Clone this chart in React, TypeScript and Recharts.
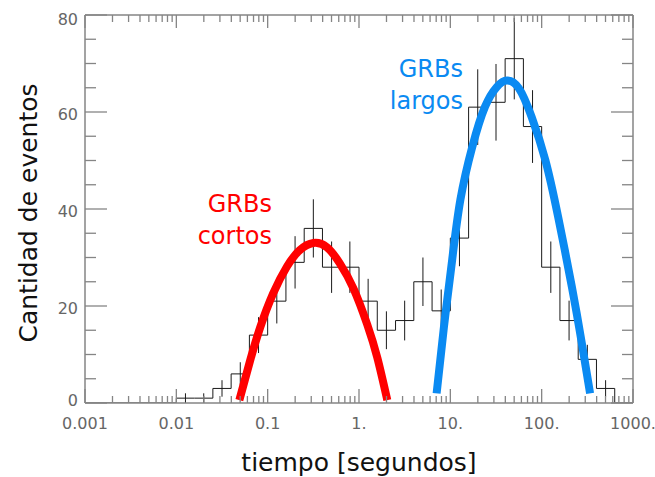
import { ComposedChart, Line, Scatter, ErrorBar, XAxis, YAxis } from 'recharts';

// histogram: left edges of the bins in log10(seconds), bin width 0.2 dex
const binEdges = [-2.0, -1.8, -1.6, -1.4, -1.2, -1.0, -0.8, -0.6, -0.4, -0.2, 0.0, 0.2, 0.4, 0.6, 0.8, 1.0, 1.2, 1.4, 1.6, 1.8, 2.0, 2.2, 2.4, 2.6];
const binWidth = 0.2;
const counts = [1, 1, 3, 6, 14, 21, 29, 36, 28, 28, 21, 15, 17, 25, 19, 34, 61, 62, 71, 57, 28, 17, 9, 3];
const countErrors = [1.0, 1.0, 1.7, 2.4, 3.7, 4.6, 5.4, 6.0, 5.3, 5.3, 4.6, 3.9, 4.1, 5.0, 4.4, 5.8, 7.8, 7.9, 8.4, 7.5, 5.3, 4.1, 3.0, 1.7];

// fitted curves (log10 seconds, events)
const shortFitX = [-1.31, -1.19, -1.08, -0.94, -0.79, -0.65, -0.5, -0.35, -0.21, -0.06, 0.09, 0.2, 0.31];
const shortFitY = [0.6, 8.9, 15.7, 22.6, 28.1, 31.5, 33.0, 32.1, 28.8, 23.6, 16.2, 9.4, 0.6];
const longFitX = [0.85, 0.93, 1.02, 1.11, 1.24, 1.38, 1.51, 1.62, 1.75, 1.89, 2.04, 2.18, 2.33, 2.44, 2.53];
const longFitY = [2.0, 15.7, 29.5, 41.9, 52.8, 61.1, 65.2, 66.5, 64.9, 59.0, 50.1, 38.4, 24.0, 12.3, 2.0];

// axes
const xMajorTicks = [-3, -2, -1, 0, 1, 2, 3];
const xTickLabels = ['0.001', '0.01', '0.1', '1.', '10.', '100.', '1000.'];
const yMajorTicks = [0, 20, 40, 60, 80];
const yTickLabels = ['0', '20', '40', '60', '80'];
const yMinorStep = 5;

const FRAME = '#858585';
const LABEL = '#666';
const RED = '#ff0000';
const BLUE = '#0a8af2';
const FONT = '"DejaVu Sans", Verdana, sans-serif';

const xTicks: number[] = [...xMajorTicks];
for (let d = -3; d < 3; d++) {
  for (let k = 2; k <= 9; k++) xTicks.push(d + Math.log10(k));
}
const yTicks: number[] = [];
for (let v = 0; v <= 80; v += yMinorStep) yTicks.push(v);

const histData = [
  { x: -3, y: 0 },
  ...binEdges.map((e, i) => ({ x: e, y: counts[i] })),
  { x: binEdges[binEdges.length - 1] + binWidth, y: 0 },
  { x: 3, y: 0 },
];
const errData = binEdges.map((e, i) => ({ x: e + binWidth / 2, y: counts[i], err: countErrors[i] }));
const shortData = shortFitX.map((x, i) => ({ x, y: shortFitY[i] }));
const longData = longFitX.map((x, i) => ({ x, y: longFitY[i] }));

function BottomTick(props: any) {
  const { x, y, payload } = props;
  const i = xMajorTicks.indexOf(payload.value);
  const len = i >= 0 ? 14 : 7;
  return (
    <g>
      <line x1={x} x2={x} y1={y} y2={y - len} stroke={FRAME} strokeWidth={1.3} />
      {i >= 0 && (
        <text x={x} y={y + 26} textAnchor="middle" fontSize={16} fill={LABEL} fontFamily={FONT}>
          {xTickLabels[i]}
        </text>
      )}
    </g>
  );
}

function TopTick(props: any) {
  const { x, y, payload } = props;
  const len = xMajorTicks.includes(payload.value) ? 13 : 7;
  return <line x1={x} x2={x} y1={y} y2={y + len} stroke={FRAME} strokeWidth={1.3} />;
}

function LeftTick(props: any) {
  const { x, y, payload } = props;
  const i = yMajorTicks.indexOf(payload.value);
  const len = i >= 0 ? 22 : 11;
  const dy = payload.value === 80 ? 4 : payload.value === 0 ? -3 : 2;
  return (
    <g>
      <line x1={x} x2={x + len} y1={y} y2={y} stroke={FRAME} strokeWidth={1.3} />
      {i >= 0 && (
        <text x={x - 7} y={y + dy} dy="0.36em" textAnchor="end" fontSize={16} fill={LABEL} fontFamily={FONT}>
          {yTickLabels[i]}
        </text>
      )}
    </g>
  );
}

function RightTick(props: any) {
  const { x, y, payload } = props;
  const len = yMajorTicks.includes(payload.value) ? 22 : 11;
  return <line x1={x} x2={x - len} y1={y} y2={y} stroke={FRAME} strokeWidth={1.3} />;
}

const noDot = () => <g />;

export default function App() {
  return (
    <div style={{ position: 'absolute', left: 0, top: 0, width: 655, height: 477, background: '#fff' }}>
      <ComposedChart width={655} height={477} margin={{ top: 14, right: 21, bottom: 73, left: 84 }}>
        <XAxis
          type="number"
          dataKey="x"
          domain={[-3, 3]}
          allowDataOverflow
          ticks={xTicks}
          interval={0}
          height={1}
          tickSize={0}
          tickMargin={0}
          tickLine={false}
          tick={<BottomTick />}
          axisLine={{ stroke: FRAME, strokeWidth: 1.5 }}
        />
        <XAxis
          xAxisId="top"
          orientation="top"
          type="number"
          dataKey="x"
          domain={[-3, 3]}
          allowDataOverflow
          ticks={xTicks}
          interval={0}
          height={1}
          tickSize={0}
          tickMargin={0}
          tickLine={false}
          tick={<TopTick />}
          axisLine={{ stroke: FRAME, strokeWidth: 1.5 }}
        />
        <YAxis
          type="number"
          dataKey="y"
          domain={[0, 80]}
          allowDataOverflow
          ticks={yTicks}
          interval={0}
          width={1}
          tickSize={0}
          tickMargin={0}
          tickLine={false}
          tick={<LeftTick />}
          axisLine={{ stroke: FRAME, strokeWidth: 1.5 }}
        />
        <YAxis
          yAxisId="r"
          orientation="right"
          type="number"
          domain={[0, 80]}
          allowDataOverflow
          ticks={yTicks}
          interval={0}
          width={1}
          tickSize={0}
          tickMargin={0}
          tickLine={false}
          tick={<RightTick />}
          axisLine={{ stroke: FRAME, strokeWidth: 1.5 }}
        />
        <Line
          data={histData}
          dataKey="y"
          type="stepAfter"
          stroke="#1a1a1a"
          strokeWidth={1}
          dot={false}
          isAnimationActive={false}
        />
        <Scatter data={errData} dataKey="y" shape={noDot} isAnimationActive={false}>
          <ErrorBar dataKey="err" direction="y" width={0} stroke="#1a1a1a" strokeWidth={1} isAnimationActive={false} />
        </Scatter>
        <Line
          data={shortData}
          dataKey="y"
          type="natural"
          stroke={RED}
          strokeWidth={8}
          strokeLinecap="butt"
          dot={false}
          isAnimationActive={false}
        />
        <Line
          data={longData}
          dataKey="y"
          type="natural"
          stroke={BLUE}
          strokeWidth={8}
          strokeLinecap="butt"
          dot={false}
          isAnimationActive={false}
        />
      </ComposedChart>
      <svg
        width={655}
        height={477}
        style={{ position: 'absolute', left: 0, top: 0, pointerEvents: 'none' }}
        fontFamily={FONT}
      >
        <text x={272} y={212} textAnchor="end" fontSize={24} fill={RED}>GRBs</text>
        <text x={272} y={244} textAnchor="end" fontSize={24} fill={RED}>cortos</text>
        <text x={463} y={77} textAnchor="end" fontSize={24} fill={BLUE}>GRBs</text>
        <text x={463} y={109} textAnchor="end" fontSize={24} fill={BLUE}>largos</text>
        <text x={359} y={471} textAnchor="middle" fontSize={25} fill="#111">tiempo [segundos]</text>
        <text
          x={0}
          y={0}
          textAnchor="middle"
          fontSize={25}
          fill="#111"
          transform="translate(37 213) rotate(-90)"
        >
          Cantidad de eventos
        </text>
      </svg>
    </div>
  );
}
